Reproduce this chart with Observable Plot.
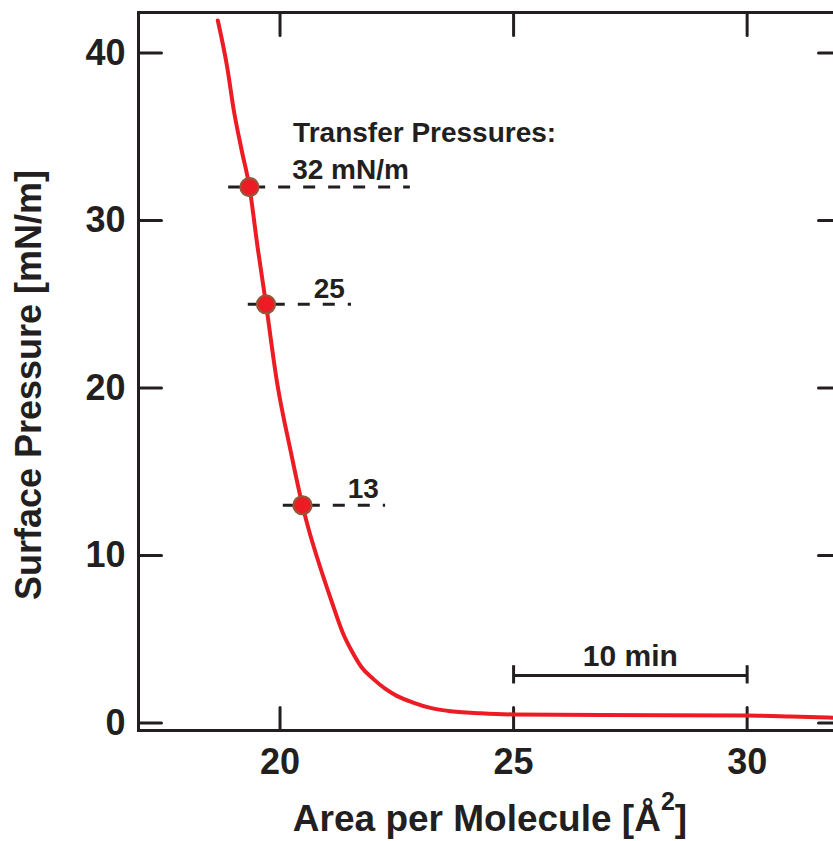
<!DOCTYPE html>
<html>
<head>
<meta charset="utf-8">
<script src="https://cdn.jsdelivr.net/npm/d3@7"></script>
<script src="https://cdn.jsdelivr.net/npm/@observablehq/plot@0.6"></script>
<style>
  html, body { margin: 0; padding: 0; background: #fff; overflow: hidden; }
  #chart { width: 833px; height: 841px; overflow: hidden; }
  #chart svg { max-width: none !important; }
</style>
</head>
<body>
<div id="chart"></div>
<script>
// Surface pressure–area isotherm (Å² per molecule vs mN/m)
const area = [18.668, 18.869, 19.011, 19.18, 19.345, 19.52, 19.70, 19.940, 20.225, 20.48, 20.62,
              20.78, 21.10, 21.35, 21.55, 21.75, 22.0, 22.25, 22.5, 22.85, 23.22, 23.6, 24.3, 25.0,
              26.86, 30.00, 30.93, 31.95];
const pressure = [41.94, 39.15, 36.57, 34.18, 32.0, 28.41, 25.0, 20.27, 16.27, 13.0, 11.49,
                  10.0, 7.30, 5.34, 4.22, 3.31, 2.62, 2.05, 1.62, 1.22, 0.90, 0.72, 0.58, 0.51,
                  0.48, 0.45, 0.39, 0.30];

// Transfer pressures marked on the isotherm
const transferPressure = [32, 25, 13];
const transferArea = [19.345, 19.70, 20.48];
const transferLabels = ["32 mN/m", "25", "13"];

// Axis ticks
const xTicks = [20, 25, 30];
const yTicks = [0, 10, 20, 30, 40];

// Time scale bar
const scaleBarLabel = "10 min";
const scaleBarFrom = 25;
const scaleBarTo = 30;

const ink = "#231f20";
const red = "#ed1c24";
const font = "'Liberation Sans', Arial, Helvetica, sans-serif";

const curve = area.map((a, i) => ({area: a, pressure: pressure[i]}));
const transfers = transferPressure.map((p, i) => ({
  pressure: p,
  area: transferArea[i],
  label: transferLabels[i]
}));

// dashed guide extents and label anchors, in data units
const guides = [
  {pressure: 32, x1: 18.90, x2: 22.79, lx: 20.26, ly: 32.49},
  {pressure: 25, x1: 19.32, x2: 21.53, lx: 20.72, ly: 25.40},
  {pressure: 13, x1: 20.07, x2: 22.26, lx: 21.45, ly: 13.42}
];
guides.forEach((g, i) => g.label = transferLabels[i]);

// a plain straight tick for Plot.vector
const tickLine = {draw(context, l) { context.moveTo(0, 0); context.lineTo(0, -l); }};
const tickOpts = {length: 23, anchor: "start", shape: tickLine, stroke: ink, strokeWidth: 3};

const chart = Plot.plot({
  width: 850,
  height: 841,
  marginLeft: 138,
  marginRight: 9,
  marginTop: 12,
  marginBottom: 111,
  x: {domain: [16.97, 32.02]},
  y: {domain: [-0.448, 42.42]},
  style: {fontFamily: font, fontWeight: "bold", color: ink, background: "#fff", overflow: "visible", maxWidth: "none"},
  marks: [
    Plot.frame({stroke: ink, strokeWidth: 3}),
    // inward ticks on all four sides
    Plot.vector(xTicks, {x: d => d, frameAnchor: "bottom", rotate: 0, ...tickOpts}),
    Plot.vector(xTicks, {x: d => d, frameAnchor: "top", rotate: 180, ...tickOpts}),
    Plot.vector(yTicks, {y: d => d, frameAnchor: "left", rotate: 90, ...tickOpts}),
    Plot.vector(yTicks, {y: d => d, frameAnchor: "right", rotate: 270, ...tickOpts}),
    Plot.axisX({ticks: xTicks, tickSize: 0, tickPadding: 18, label: null, fontSize: 36, fontWeight: "bold", fill: ink}),
    Plot.axisY({ticks: yTicks, tickSize: 0, tickPadding: 13, label: null, fontSize: 36, fontWeight: "bold", fill: ink}),
    // dashed guides at each transfer pressure
    Plot.ruleY(guides, {y: "pressure", x1: "x1", x2: "x2", stroke: ink, strokeWidth: 3, strokeDasharray: "12,13"}),
    // isotherm
    Plot.line(curve, {x: "area", y: "pressure", stroke: red, strokeWidth: 4, curve: "monotone-x"}),
    Plot.dot(transfers, {x: "area", y: "pressure", r: 9, fill: red, stroke: "#98553a", strokeWidth: 2.2}),
    // labels
    Plot.text(["Transfer Pressures:"], {x: 20.28, y: 34.67, text: d => d, textAnchor: "start", lineAnchor: "bottom",
      fontSize: 28, fontWeight: "bold", fill: ink}),
    Plot.text(guides, {x: "lx", y: "ly", text: "label", textAnchor: "start", lineAnchor: "bottom",
      fontSize: 28, fontWeight: "bold", fill: ink}),
    // scale bar
    Plot.ruleY([2.84], {x1: scaleBarFrom, x2: scaleBarTo, stroke: ink, strokeWidth: 3}),
    Plot.ruleX([scaleBarFrom, scaleBarTo], {y1: 2.33, y2: 3.42, stroke: ink, strokeWidth: 3}),
    Plot.text([scaleBarLabel], {x: (scaleBarFrom + scaleBarTo) / 2, y: 3.39, text: d => d, lineAnchor: "bottom",
      fontSize: 30, fontWeight: "bold", fill: ink})
  ]
});

// axis titles
const svg = d3.select(chart);
svg.append("text")
  .attr("transform", "translate(41,385) rotate(-90)")
  .attr("text-anchor", "middle")
  .attr("font-family", font)
  .attr("font-weight", "bold")
  .attr("font-size", 36)
  .attr("fill", ink)
  .text("Surface Pressure [mN/m]");

const xt = svg.append("text")
  .attr("x", 490)
  .attr("y", 831)
  .attr("text-anchor", "middle")
  .attr("font-family", font)
  .attr("font-weight", "bold")
  .attr("font-size", 37)
  .attr("fill", ink);
xt.append("tspan").text("Area per Molecule [Å");
xt.append("tspan").attr("font-size", 25).attr("dy", -21).text("2");
xt.append("tspan").attr("dy", 21).text("]");

document.getElementById("chart").append(chart);
</script>
</body>
</html>
